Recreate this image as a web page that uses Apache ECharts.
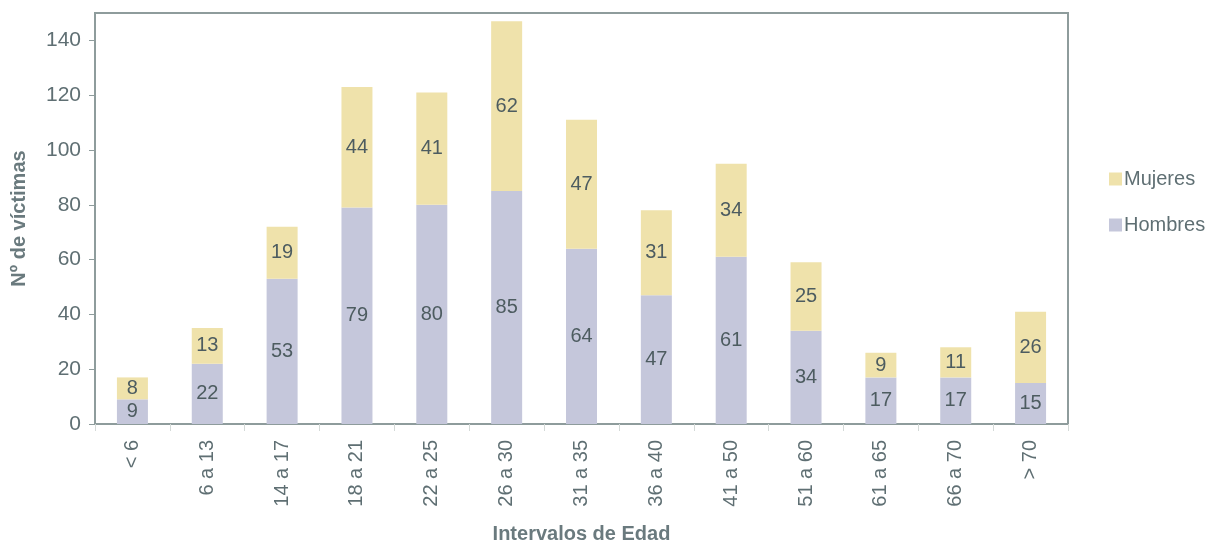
<!DOCTYPE html>
<html><head><meta charset="utf-8">
<script src="https://cdn.jsdelivr.net/npm/echarts@6/dist/echarts.min.js"></script>
<style>html,body{margin:0;padding:0;background:#fff}#c{width:1213px;height:545px}</style>
</head><body><div id="c"></div>
<script>
const categories = ['< 6','6 a 13','14 a 17','18 a 21','22 a 25','26 a 30','31 a 35','36 a 40','41 a 50','51 a 60','61 a 65','66 a 70','> 70'];
const hombres = [9,22,53,79,80,85,64,47,61,34,17,17,15];
const mujeres = [8,13,19,44,41,62,47,31,34,25,9,11,26];
const yTicks = [0,20,40,60,80,100,120,140];

const font = 'Liberation Sans, Arial, sans-serif';
const chart = echarts.init(document.getElementById('c'));
const lbl = {show:true, position:'inside', color:'#4d5c60', fontSize:20, fontFamily:font};
chart.setOption({
  animation:false,
  grid:{left:95,right:145,top:13,bottom:121,show:true,borderColor:'#8e9c9c',borderWidth:2,backgroundColor:'#fff',
    containLabel:false,outerBoundsMode:'none'},
  legend:{orient:'vertical',left:1104,top:164,itemGap:26,itemWidth:13,itemHeight:13,
    data:['Mujeres','Hombres'],
    textStyle:{color:'#5f6f73',fontSize:20,fontFamily:font,padding:[0,0,0,-3]},
    icon:'rect'},
  xAxis:{type:'category',data:categories,
    axisLine:{lineStyle:{color:'#8e9c9c',width:2}},
    axisTick:{show:true,length:7,lineStyle:{color:'#d4dad8'}},
    axisLabel:{rotate:90,color:'#5f6f73',fontSize:20,fontFamily:font,margin:16},
    name:'Intervalos de Edad',nameLocation:'middle',nameGap:100,
    nameTextStyle:{color:'#6a7a7e',fontSize:20,fontWeight:'bold',fontFamily:font}},
  yAxis:{type:'value',min:0,max:150,interval:20,
    axisLine:{show:true,lineStyle:{color:'#8e9c9c',width:2}},
    axisTick:{show:true,length:6,lineStyle:{color:'#8e9c9c'},customValues:yTicks},
    splitLine:{show:false},
    axisLabel:{color:'#5f6f73',fontSize:21,fontFamily:font,margin:14,customValues:yTicks,
      formatter:v=>yTicks.includes(v)?String(v):''},
    name:'Nº de víctimas',nameLocation:'middle',nameGap:66,
    nameTextStyle:{color:'#6a7a7e',fontSize:20,fontWeight:'bold',fontFamily:font}},
  series:[
    {name:'Hombres',type:'bar',stack:'t',data:hombres,barWidth:31,itemStyle:{color:'#c5c7db'},label:lbl},
    {name:'Mujeres',type:'bar',stack:'t',data:mujeres,barWidth:31,itemStyle:{color:'#efe2ab'},label:lbl}
  ]
});
</script></body></html>
